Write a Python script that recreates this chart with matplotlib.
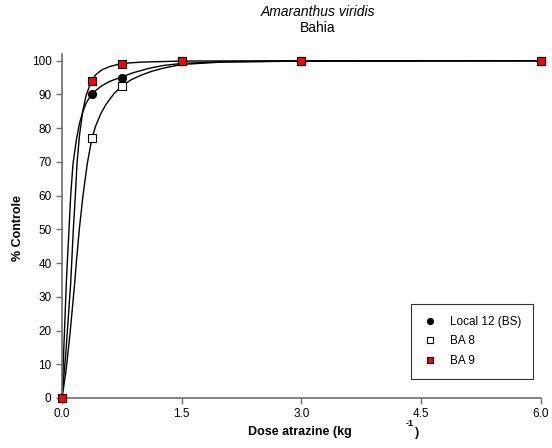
import matplotlib
matplotlib.use("Agg")
import matplotlib.pyplot as plt

plt.rcParams["font.family"] = ["Liberation Sans", "DejaVu Sans"]

W, H = 552, 448

# observed points
doses = [0.0, 0.375, 0.75, 1.5, 3.0, 6.0]
local12 = [0, 90, 95, 100, 100, 100]
ba8 = [0, 77, 92.5, 100, 100, 100]
ba9 = [0, 94, 99, 100, 100, 100]

# fitted curves
local12_cx = [0, 0.02, 0.054, 0.066, 0.088, 0.109, 0.138, 0.18, 0.22, 0.26, 0.3,
              0.34, 0.375, 0.42, 0.5, 0.6, 0.75, 0.9, 1.1, 1.27, 1.5, 2.0, 3.0, 6.0]
local12_cy = [0, 13, 34, 40, 50, 60, 69.5, 76.5, 81.5, 84.8, 87.3,
              88.9, 90, 91.1, 92.6, 93.9, 95.2, 96.5, 97.8, 98.6, 99.2, 99.7, 99.9, 100]
ba8_cx = [0, 0.05, 0.1, 0.159, 0.179, 0.217, 0.263, 0.317, 0.375, 0.42, 0.48,
          0.55, 0.65, 0.75, 0.87, 1.0, 1.13, 1.27, 1.5, 2.0, 3.0, 6.0]
ba8_cy = [0, 8, 19, 34, 40, 50, 60, 69.5, 77, 80.5, 84,
          87, 90.2, 92.5, 94.4, 95.8, 96.9, 97.8, 98.9, 99.6, 99.9, 100]
ba9_cx = [0, 0.05, 0.109, 0.142, 0.167, 0.188, 0.22, 0.26, 0.3, 0.34, 0.375,
          0.42, 0.5, 0.6, 0.75, 1.0, 1.5, 3.0, 6.0]
ba9_cy = [0, 14, 34, 50, 60, 69.5, 78, 85, 89.5, 92.2, 94,
          95.8, 97.3, 98.3, 99.2, 99.6, 99.9, 100, 100]

xticks = [0.0, 1.5, 3.0, 4.5, 6.0]
xtick_labels = ["0.0", "1.5", "3.0", "4.5", "6.0"]
yticks = list(range(0, 101, 10))

fig = plt.figure(figsize=(W / 100, H / 100), dpi=100)
left, right, bottom, top = 62, 540.5, 398, 54
ax = fig.add_axes([left / W, 1 - bottom / H, (right - left) / W, (bottom - top) / H])

axis_col = "#6e6e6e"
for side in ["top", "right"]:
    ax.spines[side].set_visible(False)
for side in ["left", "bottom"]:
    ax.spines[side].set_color(axis_col)
    ax.spines[side].set_linewidth(1.2)

ax.plot(local12_cx, local12_cy, color="black", lw=1.0, zorder=2, clip_on=False)
ax.plot(ba8_cx, ba8_cy, color="black", lw=1.0, zorder=2, clip_on=False)
ax.plot(ba9_cx, ba9_cy, color="black", lw=1.0, zorder=2, clip_on=False)

ax.plot(doses, local12, "o", color="black", ms=5.6, zorder=4,
        clip_on=False, label="Local 12 (BS)")
ax.plot(doses, ba8, "s", mfc="white", mec="black", mew=0.8, ms=5.6, zorder=5,
        clip_on=False, label="BA 8")
ax.plot(doses, ba9, "s", mfc="#ff0000", mec="black", mew=0.8, ms=5.8, zorder=6,
        clip_on=False, label="BA 9")

ax.set_xlim(0, 6)
ax.set_ylim(0, 102)
ax.set_xticks(xticks)
ax.set_xticklabels(xtick_labels)
ax.set_yticks(yticks)
ax.tick_params(direction="out", length=4.5, width=1.0, color=axis_col,
               labelsize=8.5, pad=3)

leg = ax.legend(loc="upper left", bbox_to_anchor=((410.7 - left) / (right - left),
                                                  (bottom - 304) / (bottom - top)),
                frameon=True, fancybox=False, fontsize=8.5, markerscale=0.75,
                handlelength=1.2, handletextpad=1.1, borderpad=1.0,
                labelspacing=0.65, borderaxespad=0)
leg.get_frame().set_edgecolor("black")
leg.get_frame().set_linewidth(0.8)

fig.text(318 / W, 1 - 12 / H, "Amaranthus viridis", style="italic",
         ha="center", va="center", fontsize=10)
fig.text(318 / W, 1 - 28 / H, "Bahia", ha="center", va="center", fontsize=10)

fig.text(18 / W, 1 - 228 / H, "% Controle", rotation=90, fontweight="bold",
         ha="center", va="center", fontsize=9)

fig.text(247.7 / W, 1 - 432 / H, "Dose atrazine (kg", fontweight="bold",
         ha="left", va="center", fontsize=9)
fig.text(406 / W, 1 - 423 / H, "-1", fontweight="bold",
         ha="left", va="center", fontsize=6.5)
fig.text(415 / W, 1 - 433 / H, ")", fontweight="bold",
         ha="left", va="center", fontsize=9)

fig.savefig("out.png", dpi=100)
